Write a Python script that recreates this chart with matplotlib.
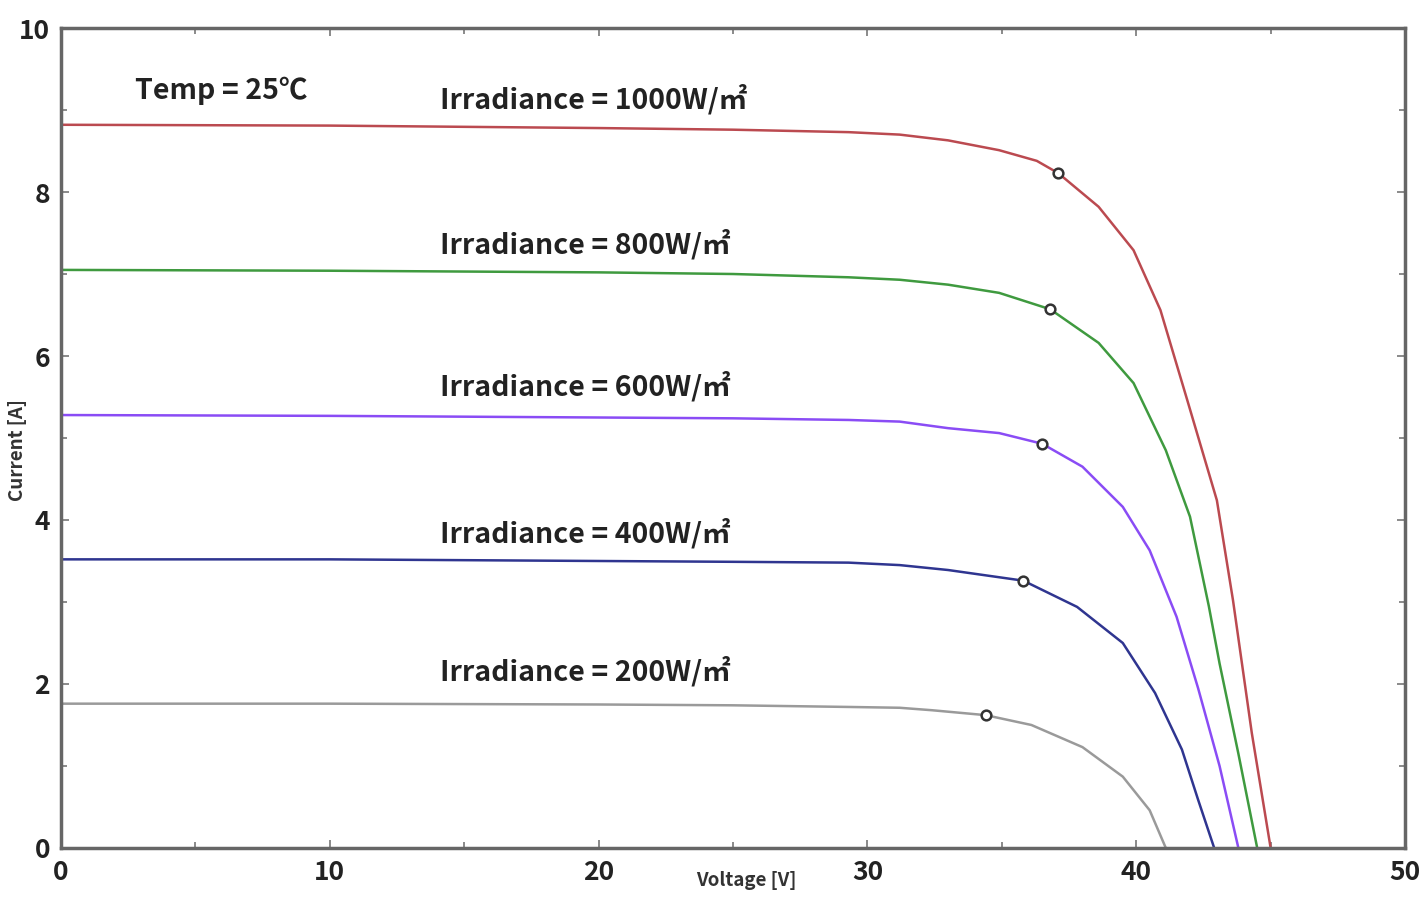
import matplotlib
matplotlib.use("Agg")
import matplotlib.pyplot as plt
from matplotlib.ticker import MultipleLocator

plt.rcParams["font.family"] = ["Noto Sans CJK SC", "DejaVu Sans"]

# I-V curves of the PV module at 25 °C, one per irradiance level
v_1000 = [0, 10, 20, 25, 29.3, 31.2, 33.0, 34.9, 36.3, 37.1, 38.6, 39.9, 40.9, 41.9, 43.0, 43.6, 44.3, 45.0]
i_1000 = [8.82, 8.81, 8.78, 8.76, 8.73, 8.70, 8.63, 8.51, 8.38, 8.23, 7.82, 7.29, 6.56, 5.46, 4.24, 3.02, 1.40, 0.0]

v_800 = [0, 10, 20, 25, 29.3, 31.2, 33.0, 34.9, 36.8, 38.6, 39.9, 41.1, 42.0, 42.7, 43.1, 43.8, 44.5]
i_800 = [7.05, 7.04, 7.02, 7.00, 6.96, 6.93, 6.87, 6.77, 6.57, 6.16, 5.67, 4.85, 4.04, 2.95, 2.25, 1.15, 0.0]

v_600 = [0, 10, 20, 25, 29.3, 31.2, 33.0, 34.9, 36.5, 38.0, 39.5, 40.5, 41.5, 42.3, 43.1, 43.8]
i_600 = [5.28, 5.27, 5.25, 5.24, 5.22, 5.20, 5.12, 5.06, 4.93, 4.65, 4.16, 3.63, 2.82, 1.95, 1.00, 0.0]

v_400 = [0, 10, 20, 25, 29.3, 31.2, 33.0, 35.8, 37.8, 39.5, 40.7, 41.7, 42.3, 42.9]
i_400 = [3.52, 3.52, 3.50, 3.49, 3.48, 3.45, 3.39, 3.26, 2.94, 2.50, 1.89, 1.20, 0.59, 0.0]

v_200 = [0, 10, 20, 25, 29.3, 31.2, 32.4, 34.4, 36.1, 38.0, 39.5, 40.5, 41.1]
i_200 = [1.76, 1.76, 1.75, 1.74, 1.72, 1.71, 1.68, 1.62, 1.50, 1.23, 0.87, 0.46, 0.0]

# maximum power points
mpp_v = [37.1, 36.8, 36.5, 35.8, 34.4]
mpp_i = [8.23, 6.57, 4.93, 3.26, 1.62]

labels = ["Irradiance = 1000W/㎡", "Irradiance = 800W/㎡", "Irradiance = 600W/㎡",
          "Irradiance = 400W/㎡", "Irradiance = 200W/㎡"]
label_y = [9.13, 7.36, 5.63, 3.84, 2.15]
colors = ["#bb4a50", "#3f9a3f", "#8a4cf5", "#2f3590", "#9a9a9a"]

fig = plt.figure(figsize=(14.25, 8.98), dpi=100)
ax = fig.add_axes([0.0428, 0.0557, 0.9432, 0.9131])

curves = [(v_1000, i_1000), (v_800, i_800), (v_600, i_600), (v_400, i_400), (v_200, i_200)]
for (v, i), c in zip(curves, colors):
    ax.plot(v, i, color=c, linewidth=1.8, solid_joinstyle="round")

ax.plot(mpp_v, mpp_i, linestyle="none", marker="o", markersize=7,
        markerfacecolor="white", markeredgecolor="#333333", markeredgewidth=1.8)

for txt, y in zip(labels, label_y):
    ax.text(14.1, y, txt, fontsize=20.5, fontweight="bold", color="#222222",
            ha="left", va="center")
ax.text(2.75, 9.24, "Temp = 25℃", fontsize=20.5, fontweight="bold", color="#222222",
        ha="left", va="center")

ax.set_xlim(0, 50)
ax.set_ylim(0, 10)
ax.xaxis.set_major_locator(MultipleLocator(10))
ax.xaxis.set_minor_locator(MultipleLocator(5))
ax.yaxis.set_major_locator(MultipleLocator(2))
ax.yaxis.set_minor_locator(MultipleLocator(1))
ax.tick_params(which="both", direction="in", top=True, right=True,
               color="#777777", width=1.2)
ax.tick_params(which="major", length=6, labelsize=19, pad=8)
ax.tick_params(which="minor", length=4)
for lab in ax.get_xticklabels() + ax.get_yticklabels():
    lab.set_fontweight("bold")
    lab.set_color("#222222")
for s in ax.spines.values():
    s.set_color("#666666")
    s.set_linewidth(2.5)

ax.set_xlabel("Voltage [V]", fontsize=13.5, fontweight="bold", color="#333333")
ax.set_ylabel("Current [A]", fontsize=13.5, fontweight="bold", color="#333333")
ax.xaxis.set_label_coords(0.51, -0.028)
ax.yaxis.set_label_coords(-0.025, 0.485)

fig.savefig("out.png", dpi=100, facecolor="white")
